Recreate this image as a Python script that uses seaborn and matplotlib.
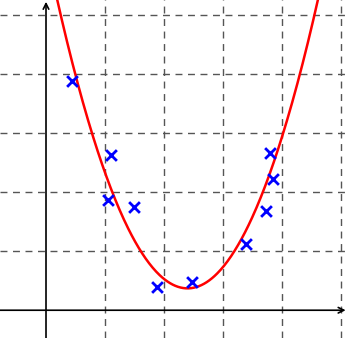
import numpy as np
import pandas as pd
import matplotlib
matplotlib.use("Agg")
import matplotlib.pyplot as plt
import seaborn as sns

x_pts = [0.44, 1.10, 1.05, 1.49, 1.88, 2.47, 3.39, 3.73, 3.85, 3.80]
y_pts = [3.88, 2.63, 1.86, 1.75, 0.39, 0.47, 1.12, 1.68, 2.22, 2.66]

# fitted parabola coefficients (highest power first)
fit_coeffs = [1.0, -4.8, 6.13]

grid_ticks = [1, 2, 3, 4, 5]

sns.set_style("white")

fig = plt.figure(figsize=(3.48, 3.38), dpi=100)
ax = fig.add_axes([0, 0, 1, 1])

xmin, xmax = -0.78, 5.12
ymin, ymax = -0.47, 5.25

# curve
xs = np.linspace(xmin, xmax, 400)
curve = pd.DataFrame({"x": xs, "y": np.polyval(fit_coeffs, xs)})
sns.lineplot(data=curve, x="x", y="y", color="red", linewidth=1.8, ax=ax, zorder=3)

pts = pd.DataFrame({"x": x_pts, "y": y_pts})
sns.scatterplot(data=pts, x="x", y="y", marker="x", color="blue", s=60,
                linewidth=2, ax=ax, zorder=4)

ax.set_xlim(xmin, xmax)
ax.set_ylim(ymin, ymax)

ax.set_xticks(grid_ticks)
ax.set_yticks(grid_ticks)
ax.set_xticklabels([])
ax.set_yticklabels([])
ax.grid(True, color="#555555", linestyle=(0, (5, 4)), linewidth=1)
ax.set_axisbelow(True)

for side in ["left", "bottom"]:
    ax.spines[side].set_position(("data", 0))
    ax.spines[side].set_visible(False)
for side in ["right", "top"]:
    ax.spines[side].set_visible(False)
ax.tick_params(direction="inout", length=6, width=1, color="black")

# axes with arrow heads
ax.annotate("", xy=(5.08, 0), xytext=(xmin, 0),
            arrowprops=dict(arrowstyle="->", color="black", lw=1.2,
                            shrinkA=0, shrinkB=0), zorder=2)
ax.annotate("", xy=(0, 5.22), xytext=(0, ymin),
            arrowprops=dict(arrowstyle="->", color="black", lw=1.2,
                            shrinkA=0, shrinkB=0), zorder=2)

ax.set_xlabel("")
ax.set_ylabel("")

fig.savefig("out.png", dpi=100)
